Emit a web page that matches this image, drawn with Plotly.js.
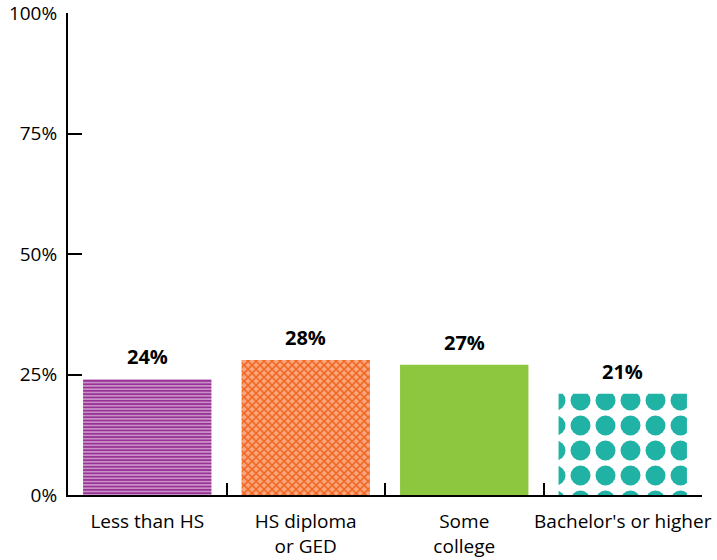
<!DOCTYPE html>
<html>
<head>
<meta charset="utf-8">
<script src="https://cdn.plot.ly/plotly-3.0.1.min.js"></script>
<style>
  html, body { margin: 0; padding: 0; background: #ffffff; }
  #chart { width: 717px; height: 560px; }
</style>
</head>
<body>
<div id="chart"></div>
<script>
var categories = ["Less than HS", "HS diploma<br>or GED", "Some<br>college", "Bachelor's or higher"];
var values = [24, 28, 27, 21];
var valueLabels = ["24%", "28%", "27%", "21%"];
var yTickValues = [0, 25, 50, 75, 100];
var yTickLabels = ["0%", "25%", "50%", "75%", "100%"];

var solidColor = "#8dc63f";
var fgColors = ["#93278f", "#f26522", "#8dc63f", "#21b2a6"];
var bgColors = ["#c990c8", "#f9a77d", "#8dc63f", "#ffffff"];
var shapes = ["-", "x", "", "."];
var sizes = [3.3, 5.66, 8, 25];
var solidities = [0.45, 0.5, 0.5, 0.5];

var FONT = "'Open Sans', 'Noto Sans', sans-serif";

var trace = {
  type: "bar",
  x: categories,
  y: values,
  marker: {
    color: solidColor,
    line: { width: 0 },
    pattern: {
      shape: shapes,
      fgcolor: fgColors,
      bgcolor: bgColors,
      size: sizes,
      solidity: solidities,
      fillmode: "replace",
      fgopacity: 1
    }
  },
  hoverinfo: "none"
};

var annotations = categories.map(function (c, i) {
  return {
    x: c, y: values[i], xref: "x", yref: "y",
    text: "<b>" + valueLabels[i] + "</b>",
    showarrow: false, yanchor: "bottom", yshift: 7,
    font: { family: FONT, size: 20, color: "#000000" }
  };
});

var layout = {
  width: 717, height: 560,
  margin: { l: 68, r: 15, t: 13, b: 65 },
  paper_bgcolor: "#ffffff", plot_bgcolor: "#ffffff",
  bargap: 0.19,
  showlegend: false,
  font: { family: FONT, size: 18, color: "#000000" },
  xaxis: {
    type: "category",
    range: [-0.5, 3.5],
    showline: true, linecolor: "#000000", linewidth: 2,
    ticks: "inside", ticklen: 12, tickwidth: 2, tickcolor: "#000000",
    tickson: "boundaries",
    tickangle: 0,
    showgrid: false, zeroline: false,
    tickfont: { family: FONT, size: 19, color: "#000000" },
    ticklabelstandoff: 8,
    ticklabeloverflow: "allow",
    fixedrange: true
  },
  yaxis: {
    range: [0, 100],
    tickvals: yTickValues, ticktext: yTickLabels,
    showline: true, linecolor: "#000000", linewidth: 2,
    ticks: "inside", ticklen: 14, tickwidth: 2, tickcolor: "#000000",
    showgrid: false, zeroline: false,
    tickfont: { family: FONT, size: 19, color: "#000000" },
    ticklabelstandoff: 5,
    ticklabeloverflow: "allow",
    fixedrange: true
  },
  annotations: annotations
};

Plotly.newPlot("chart", [trace], layout, { displayModeBar: false, staticPlot: true });
</script>
</body>
</html>
